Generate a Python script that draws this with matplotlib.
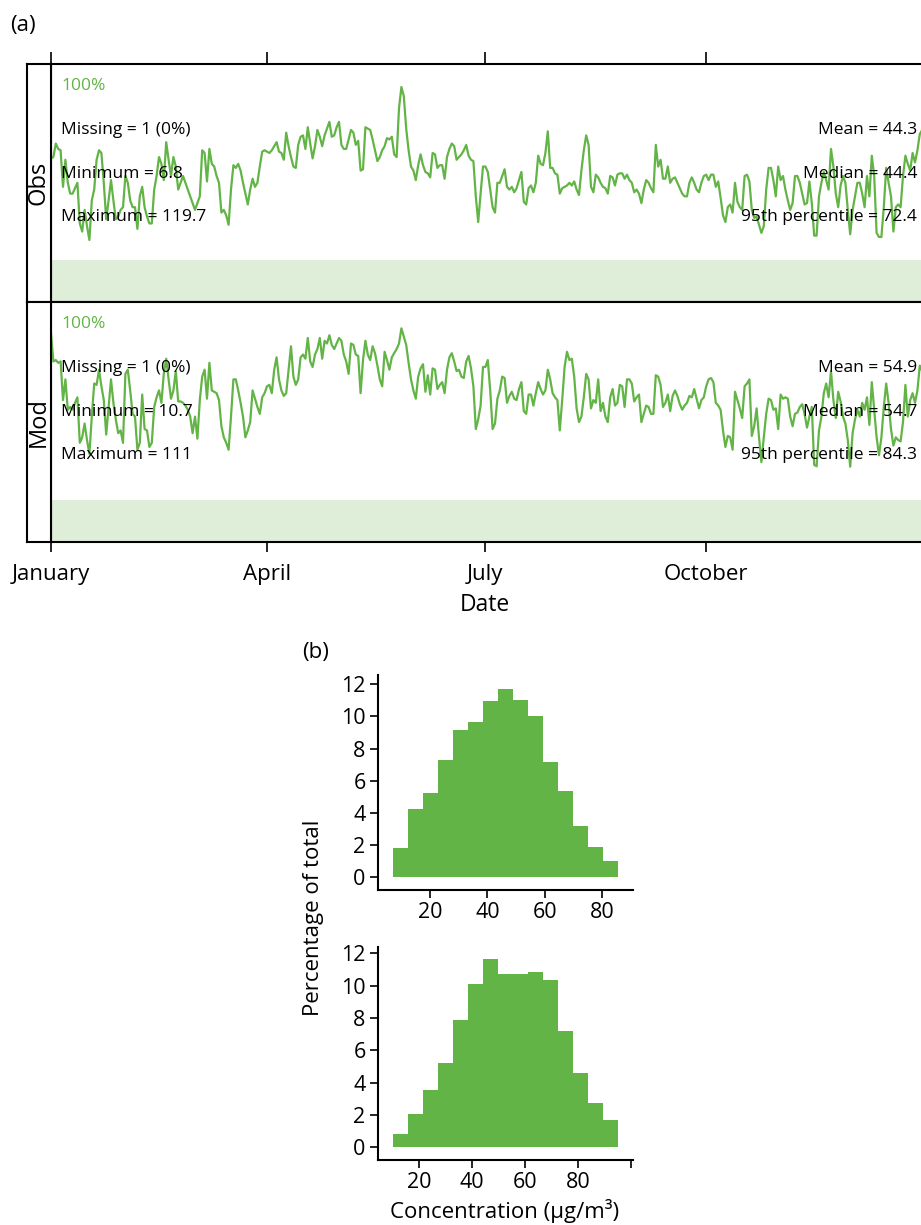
import numpy as np
import pandas as pd
import matplotlib

matplotlib.use("Agg")
import matplotlib.pyplot as plt
import matplotlib.dates as mdates

plt.rcParams["font.family"] = ["Open Sans", "DejaVu Sans"]

# daily concentrations (ug/m3), 1 Jan - 31 Dec
dates = pd.date_range("2013-01-01", periods=365, freq="D")

obs_values = [
    67, 68, 78, 74, 73, 46, 66, 49, 41, 41,
    45, 49, 19, 13, 29, 17, 6.8, 36, 44, 66,
    73, 71, 49, 22, 36, 51, 36, 22, 24, 29,
    31, 54, 49, 36, 31, 31, 15, 39, 46, 31,
    24, 19, 19, 44, 54, 68, 63, 51, 79, 66,
    54, 68, 61, 44, 49, 54, 49, 44, 39, 34,
    29, 34, 39, 73, 71, 50, 74, 63, 61, 54,
    49, 27, 29, 25, 18, 44, 62, 60, 63, 58,
    49, 41, 33, 44, 52, 46, 49, 61, 72, 73,
    72, 71, 73, 76, 79, 72, 71, 66, 86, 76,
    68, 61, 60, 77, 83, 84, 74, 90, 78, 67,
    76, 88, 83, 76, 84, 89, 94, 83, 84, 90,
    94, 77, 74, 74, 81, 88, 86, 77, 80, 58,
    59, 90, 89, 88, 81, 73, 65, 68, 73, 76,
    82, 81, 83, 70, 68, 104, 119.7, 113, 89, 73,
    61, 58, 51, 62, 70, 62, 57, 56, 53, 71,
    70, 60, 62, 62, 52, 68, 74, 78, 76, 66,
    68, 70, 73, 77, 69, 66, 65, 39, 20, 41,
    61, 61, 57, 44, 31, 27, 49, 49, 54, 59,
    46, 44, 46, 42, 45, 51, 57, 35, 33, 45,
    47, 42, 49, 69, 63, 62, 71, 87, 60, 60,
    56, 55, 41, 45, 46, 47, 49, 47, 50, 44,
    40, 58, 73, 84, 77, 46, 42, 55, 53, 49,
    46, 45, 41, 54, 53, 47, 55, 56, 56, 52,
    55, 51, 49, 42, 44, 41, 34, 44, 51, 49,
    45, 42, 77, 61, 66, 52, 52, 61, 49, 52,
    53, 49, 45, 41, 39, 39, 49, 53, 49, 44,
    42, 49, 54, 55, 51, 55, 55, 46, 50, 38,
    25, 20, 31, 33, 27, 49, 35, 31, 29, 54,
    55, 50, 29, 23, 24, 18, 12, 17, 44, 60,
    60, 51, 39, 61, 51, 54, 44, 36, 29, 34,
    54, 54, 49, 41, 33, 34, 50, 34, 10, 10,
    39, 49, 57, 51, 44, 74, 61, 41, 31, 47,
    54, 49, 29, 11, 29, 39, 49, 49, 41, 31,
    54, 39, 69, 54, 12, 9, 9, 31, 60, 49,
    39, 13, 31, 33, 31, 54, 69, 63, 58, 71,
    64, 73, 85, 88, 90,
]

mod_values = [
    107, 87, 88, 86, 87, 59, 74, 52, 54, 52,
    57, 61, 28, 32, 42, 30, 20, 47, 71, 70,
    81, 69, 59, 34, 54, 74, 57, 45, 35, 37,
    28, 78, 81, 66, 49, 47, 23, 28, 63, 38,
    37, 25, 28, 54, 61, 66, 57, 78, 89, 74,
    60, 66, 80, 58, 58, 57, 55, 52, 47, 35,
    47, 31, 59, 76, 81, 60, 86, 66, 65, 64,
    59, 40, 32, 28, 23, 47, 74, 74, 66, 57,
    47, 32, 37, 43, 66, 60, 54, 49, 61, 64,
    69, 70, 64, 81, 90, 74, 66, 62, 64, 81,
    98, 76, 70, 74, 90, 92, 89, 104, 87, 83,
    92, 96, 104, 89, 102, 100, 106, 99, 96, 100,
    104, 102, 92, 87, 78, 100, 99, 92, 91, 64,
    88, 102, 92, 88, 98, 93, 84, 74, 69, 94,
    88, 81, 90, 93, 96, 100, 111, 105, 99, 86,
    74, 66, 60, 76, 82, 85, 65, 77, 63, 82,
    81, 67, 70, 72, 64, 81, 90, 93, 87, 80,
    81, 76, 75, 87, 91, 82, 69, 38, 45, 55,
    83, 83, 88, 66, 38, 42, 60, 66, 76, 75,
    57, 62, 65, 60, 59, 67, 72, 51, 49, 63,
    63, 55, 64, 72, 67, 63, 66, 81, 74, 64,
    61, 59, 37, 59, 83, 94, 88, 89, 76, 53,
    43, 47, 61, 78, 74, 53, 59, 57, 74, 51,
    57, 47, 43, 61, 67, 55, 57, 70, 69, 54,
    74, 74, 71, 58, 61, 63, 43, 49, 55, 54,
    49, 49, 77, 76, 70, 54, 57, 63, 51, 62,
    66, 62, 56, 52, 55, 57, 62, 61, 67, 60,
    53, 59, 61, 69, 74, 75, 72, 57, 55, 52,
    37, 25, 33, 32, 23, 65, 59, 53, 46, 69,
    71, 74, 33, 40, 53, 32, 14, 32, 49, 60,
    59, 52, 53, 38, 63, 60, 61, 60, 47, 40,
    49, 50, 54, 56, 49, 39, 47, 54, 12, 11,
    37, 47, 64, 71, 61, 80, 59, 46, 65, 58,
    47, 42, 30, 10.7, 35, 45, 52, 47, 57, 52,
    61, 41, 72, 52, 32, 19, 32, 54, 71, 57,
    38, 26, 32, 30, 29, 43, 70, 47, 59, 64,
    57, 66, 84, 80, 81,
]

panel_names = ["Obs", "Mod"]
stats_left = [
    ["Missing = 1 (0%)", "Minimum = 6.8", "Maximum = 119.7"],
    ["Missing = 1 (0%)", "Minimum = 10.7", "Maximum = 111"],
]
stats_right = [
    ["Mean = 44.3", "Median = 44.4", "95th percentile = 72.4"],
    ["Mean = 54.9", "Median = 54.7", "95th percentile = 84.3"],
]
month_ticks = pd.to_datetime(["2013-01-01", "2013-04-01", "2013-07-01", "2013-10-01"])

# histogram: bin range and percentage of total per bin
obs_bin_range = (7.0, 85.5)
obs_hist_pct = [1.80, 4.25, 5.24, 7.30, 9.16, 9.66, 10.96, 11.71,
                11.03, 10.03, 7.15, 5.37, 3.19, 1.89, 1.02]
mod_bin_range = (10.4, 95.0)
mod_hist_pct = [0.82, 2.06, 3.55, 5.22, 7.88, 10.10, 11.63, 10.72,
                10.72, 10.85, 10.35, 7.20, 4.60, 2.74, 1.69]

GREEN = "#63b446"
BAND = "#dfeed9"
W, H = 921, 1225


def box(x0, y0, x1, y1):
    return [x0 / W, 1 - y1 / H, (x1 - x0) / W, (y1 - y0) / H]


def ftext(x, y, s, **kw):
    fig.text(x / W, 1 - y / H, s, **kw)


fig = plt.figure(figsize=(W / 100, H / 100), dpi=100)

# ---- (a) time series ----
ts_boxes = [(64, 302), (302, 542)]
ts_ylims = [(-39.0, 136.7), (-43.9, 130.1)]
series = [obs_values, mod_values]
xlim = (pd.Timestamp("2013-01-01"), pd.Timestamp("2014-01-01"))

for i, (top, bot) in enumerate(ts_boxes):
    ax = fig.add_axes(box(51, top, 927, bot))
    ax.plot(dates, series[i], color=GREEN, lw=1.6, zorder=3)
    ax.axvspan(xlim[0], xlim[1], ymin=0, ymax=0.177, color=BAND, lw=0, zorder=1)
    ax.set_xlim(*xlim)
    ax.set_ylim(*ts_ylims[i])
    ax.set_yticks([])
    ax.set_xticks(month_ticks)
    ax.xaxis.set_major_formatter(mdates.DateFormatter("%B"))
    for sp in ax.spines.values():
        sp.set_linewidth(1.5)
    if i == 0:
        ax.xaxis.set_ticks_position("top")
        ax.tick_params(axis="x", length=8.5, width=1.2, labeltop=False)
    else:
        ax.tick_params(axis="x", length=7, width=1.2, labelsize=16, pad=9)

    strip = fig.add_axes(box(27, top, 51, bot))
    strip.set_xticks([])
    strip.set_yticks([])
    for sp in strip.spines.values():
        sp.set_linewidth(1.5)
    strip.text(0.5, 0.5, panel_names[i], rotation=90, ha="center", va="center",
               fontsize=17, transform=strip.transAxes)

    ftext(61, top + 22, "100%", color=GREEN, fontsize=12.5, va="center")
    for j in range(3):
        ytxt = top + 66 + j * 43.5
        ftext(61, ytxt, stats_left[i][j], fontsize=12.5, va="center", zorder=5)
        ftext(917, ytxt, stats_right[i][j], fontsize=12.5, va="center", ha="right",
              zorder=5)

ftext(10, 25, "(a)", fontsize=16, va="center")
ftext(485, 605, "Date", fontsize=16.5, ha="center", va="center")

# ---- (b) histograms ----
hist_boxes = [(675, 890), (947, 1160)]
hist_xlims = [(1.9, 90.7), (4.6, 100.6)]
hist_ylims = [(-0.79, 12.58), (-0.785, 12.39)]
hist_ranges = [obs_bin_range, mod_bin_range]
hist_pcts = [obs_hist_pct, mod_hist_pct]
hist_xticks = [[20, 40, 60, 80], [20, 40, 60, 80, 100]]

for i, (top, bot) in enumerate(hist_boxes):
    ax = fig.add_axes(box(378, top, 633, bot))
    pct = np.array(hist_pcts[i])
    edges = np.linspace(hist_ranges[i][0], hist_ranges[i][1], len(pct) + 1)
    ax.bar(edges[:-1], pct, width=np.diff(edges), align="edge", color=GREEN,
           lw=0)
    ax.set_xlim(*hist_xlims[i])
    ax.set_ylim(*hist_ylims[i])
    ax.spines["top"].set_visible(False)
    ax.spines["right"].set_visible(False)
    ax.spines["left"].set_linewidth(1.5)
    ax.spines["bottom"].set_linewidth(1.5)
    ax.set_yticks(range(0, 13, 2))
    ax.set_xticks(hist_xticks[i])
    ax.set_xticklabels([str(t) if t < 100 else "" for t in hist_xticks[i]])
    ax.tick_params(length=6, width=1.2, labelsize=15.5, pad=3)

ftext(316, 653, "(b)", fontsize=16, ha="center", va="center")
ftext(314, 918, "Percentage of total", fontsize=16, rotation=90,
      ha="center", va="center")
ftext(505, 1211, "Concentration (µg/m³)", fontsize=16, ha="center", va="center")

fig.savefig("out.png", dpi=100)
